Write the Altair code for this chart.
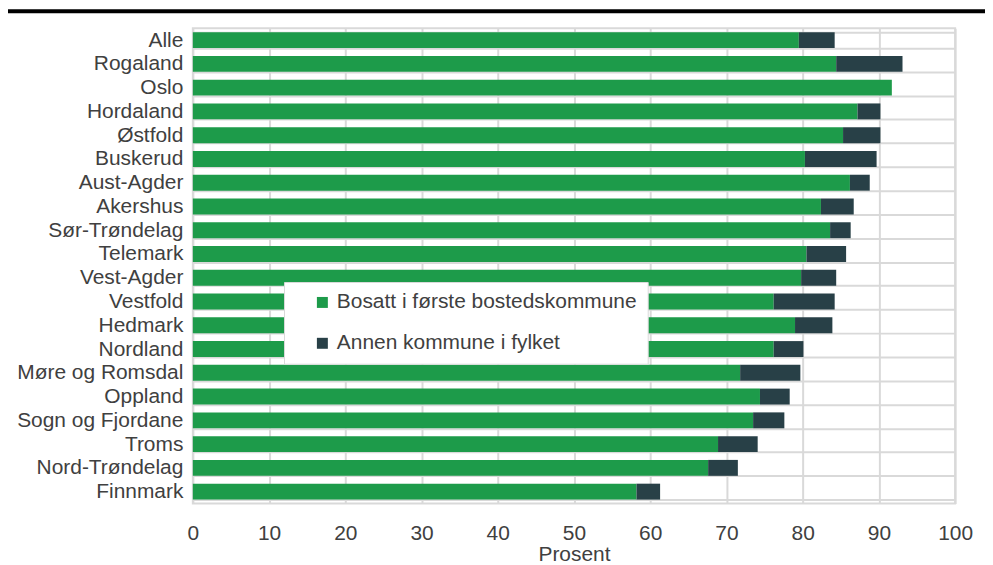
import altair as alt
import pandas as pd

regions = ["Alle", "Rogaland", "Oslo", "Hordaland", "Østfold", "Buskerud", "Aust-Agder",
           "Akershus", "Sør-Trøndelag", "Telemark", "Vest-Agder", "Vestfold", "Hedmark",
           "Nordland", "Møre og Romsdal", "Oppland", "Sogn og Fjordane", "Troms",
           "Nord-Trøndelag", "Finnmark"]
first_municipality = [79.5, 84.4, 91.7, 87.2, 85.3, 80.3, 86.2, 82.4, 83.6, 80.5, 79.8,
                      76.2, 79.0, 76.2, 71.8, 74.4, 73.5, 68.9, 67.6, 58.2]
other_in_county = [4.7, 8.7, 0.0, 3.0, 4.9, 9.4, 2.6, 4.3, 2.7, 5.2, 4.6,
                   8.0, 4.9, 3.9, 7.9, 3.9, 4.1, 5.2, 3.9, 3.1]
series = ["Bosatt i første bostedskommune", "Annen kommune i fylket"]
colors = ["#1d9b4a", "#284047"]

rows = []
for r, a, b in zip(regions, first_municipality, other_in_county):
    rows.append({"region": r, "serie": series[0], "verdi": a, "ordning": 0})
    rows.append({"region": r, "serie": series[1], "verdi": b, "ordning": 1})
df = pd.DataFrame(rows)

FONT = "Liberation Sans"
TXT = "#404040"
GRID = "#d9d9d9"
W, H = 765, 477
FS = 21

bars = alt.Chart(df).mark_bar().encode(
    y=alt.Y("region:N", sort=regions, title=None,
            scale=alt.Scale(paddingInner=0.33, paddingOuter=0.165),
            axis=alt.Axis(labelFontSize=FS, labelFont=FONT, labelColor=TXT, labelPadding=10,
                          ticks=False, domain=False, grid=True, tickBand="extent",
                          gridColor=GRID, gridWidth=2, labelLimit=300)),
    x=alt.X("verdi:Q", stack="zero", title="Prosent",
            scale=alt.Scale(domain=[0, 100], nice=False),
            axis=alt.Axis(values=list(range(0, 101, 10)), labelFontSize=FS, labelFont=FONT,
                          labelColor=TXT, labelPadding=19, ticks=False, domain=False,
                          labelFlush=False, labelOverlap=False,
                          grid=True, gridColor=GRID, gridWidth=2,
                          titleFontSize=FS, titleFont=FONT, titleColor=TXT,
                          titleFontWeight="normal", titlePadding=0)),
    color=alt.Color("serie:N", sort=series,
                    scale=alt.Scale(domain=series, range=colors),
                    legend=alt.Legend(title=None, orient="none", legendX=91.5, legendY=254.7,
                                      fillColor="white", strokeColor=GRID, padding=10,
                                      symbolOffset=18, rowPadding=19, labelFontSize=FS,
                                      labelFont=FONT, labelColor=TXT, symbolSize=121,
                                      symbolType="square", symbolStrokeWidth=0,
                                      labelOffset=4, labelLimit=1000)),
    order=alt.Order("ordning:Q"),
)

topline = alt.Chart(pd.DataFrame({"a": [0]})).mark_rule(color="black", strokeWidth=4).encode(
    x=alt.value(-188), x2=alt.value(W + 30), y=alt.value(-17)
)

chart = alt.layer(bars, topline).properties(
    width=W, height=H,
    autosize=alt.AutoSizeParams(type="none"),
    padding={"left": 185.5, "top": 19.3, "right": 30, "bottom": 60},
).configure_view(stroke=GRID, strokeWidth=2)

chart.save("out.html", embed_options={"renderer": "svg", "actions": False})
